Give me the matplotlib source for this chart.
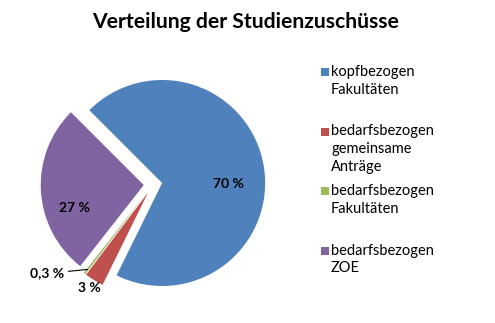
import numpy as np
import matplotlib.pyplot as plt
from matplotlib.patches import Rectangle

# Daten
kategorien = ['kopfbezogen\nFakultäten',
              'bedarfsbezogen\ngemeinsame\nAnträge',
              'bedarfsbezogen\nFakultäten',
              'bedarfsbezogen\nZOE']
anteile = [70, 3, 0.3, 27]
farben = ['#4F81BD', '#C0504D', '#9BBB59', '#8064A2']

# Beschriftungsposition je Stueck: (Radius, Winkelkorrektur in Grad)
lab_pos = [(0.73, -9), (1.18, 0), (1.22, -7.4), (0.80, 13)]

plt.rcParams['font.family'] = ['Lato', 'DejaVu Sans']

W, H = 495, 323
fig = plt.figure(figsize=(W / 100, H / 100), dpi=100)

# Kreis: Mitte bei (153, 184.5) px, Radius 103 px
cx, cy, rpx, half = 153, 184.5, 103, 135
ax = fig.add_axes([(cx - half) / W, (H - cy - half) / H, 2 * half / W, 2 * half / H])
lim = half / rpx
ax.set_aspect('equal')
ax.axis('off')

wedges, _ = ax.pie(anteile, colors=farben, explode=[0.09] * 4, startangle=135,
                   counterclock=False, radius=1.0,
                   wedgeprops=dict(edgecolor='none'))
ax.set_xlim(-lim, lim)
ax.set_ylim(-lim, lim)

for i, (w, v) in enumerate(zip(wedges, anteile)):
    mid = np.deg2rad((w.theta1 + w.theta2) / 2)
    r, off = lab_pos[i]
    a = mid + np.deg2rad(off)
    txt = f"{v:g}".replace('.', ',') + " %"
    x, y = r * np.cos(a), r * np.sin(a)
    if v < 1:
        ax.annotate(txt, xy=(1.04 * np.cos(mid), 1.04 * np.sin(mid)), xytext=(x, y),
                    ha='right', va='center', fontsize=10, fontweight='bold',
                    arrowprops=dict(arrowstyle='-', color='black', lw=0.8,
                                    shrinkA=1, shrinkB=0))
    else:
        ax.text(x, y, txt, ha='center', va='center', fontsize=10, fontweight='bold')

fig.text(246 / W, 1 - 22 / H, 'Verteilung der Studienzuschüsse', ha='center', va='center',
         fontsize=15.2, fontweight='bold')

# Legende
for i, (name, f) in enumerate(zip(kategorien, farben)):
    ytop = 72 + i * 59.5
    fig.patches.append(Rectangle((321 / W, 1 - (ytop + 4) / H), 8 / W, 8 / H,
                                 transform=fig.transFigure, facecolor=f, edgecolor='none'))
    fig.text(331 / W, 1 - (ytop - 7) / H, name, ha='left', va='top', fontsize=10.5,
             linespacing=1.32)

fig.savefig('out.png', dpi=100)
